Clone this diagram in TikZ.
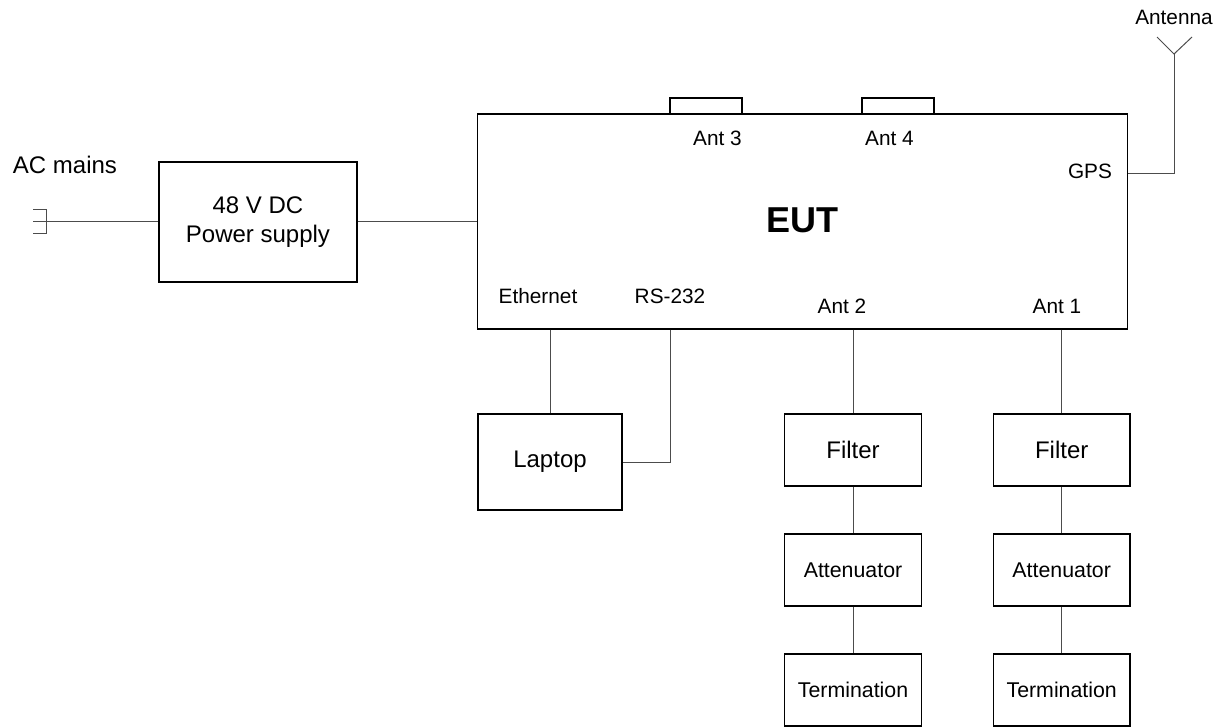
\documentclass[tikz,border=0pt]{standalone}
\usepackage{fontspec}
\setmainfont{Liberation Sans}
\usetikzlibrary{calc}
\tikzset{
  block/.style={rectangle, draw=black, line width=1pt, inner sep=0pt, align=center, font=\fontsize{18}{21.5}\selectfont},
  chainbox/.style={block, minimum width=102.5pt, minimum height=54pt},
  smalltext/.style={font=\fontsize{16}{19}\selectfont},
  lbl/.style={inner sep=0pt, font=\fontsize{15.6}{18}\selectfont},
  wire/.style={line width=0.75pt, black!70},
}
\begin{document}
\begin{tikzpicture}[x=0.75pt, y=-0.75pt]
\useasboundingbox (0,0) rectangle (1227,727);
% main unit and its two top ports
\node[block, minimum width=487.5pt, minimum height=161pt, font=\fontsize{27}{32}\selectfont\bfseries] (eut) at (802.5,221.5) {\raisebox{1.9pt}{EUT}};
\node[block, minimum width=54pt, minimum height=12pt] (ant3) at (706,106) {};
\node[block, minimum width=54pt, minimum height=12pt] (ant4) at (898,106) {};
% power side
\node[block, minimum width=148.5pt, minimum height=90pt] (psu) at (258,222) {48 V DC\\Power supply};
\node[block, minimum width=108pt, minimum height=72pt] (laptop) at (550,462) {Laptop};
% filter chains
\node[chainbox] (filterb) at (853,450) {Filter};
\node[chainbox, smalltext] (attb) at (853,570) {Attenuator};
\node[chainbox, smalltext] (termb) at (853,690) {Termination};
\node[chainbox] (filtera) at (1061.7,450) {Filter};
\node[chainbox, smalltext] (atta) at (1061.7,570) {Attenuator};
\node[chainbox, smalltext] (terma) at (1061.7,690) {Termination};
% labels
\node[lbl, font=\fontsize{18}{21}\selectfont] (acmains) at (65,165) {AC mains};
\node[lbl] (antenna) at (1174,17) {Antenna};
\node[lbl] (lant3) at (717.5,138) {Ant 3};
\node[lbl] (lant4) at (889.5,138) {Ant 4};
\node[lbl] (lgps) at (1090,171) {GPS};
\node[lbl] (leth) at (538,296) {Ethernet};
\node[lbl] (lrs) at (670,296) {RS-232};
\node[lbl] (lant2) at (842,306) {Ant 2};
\node[lbl] (lant1) at (1057,306) {Ant 1};
% plug and aerial
\coordinate (plugend) at (33,222);
\coordinate (plugtop) at (33,210);
\coordinate (plugbot) at (33,234);
\coordinate (plugtopr) at (46,210);
\coordinate (plugbotr) at (46,234);
\coordinate (antfoot) at (1174,54);
\coordinate (antl) at (1157,37);
\coordinate (antr) at (1192,37);
\coordinate (gpscorner) at (1174,174);
% connectors
\draw[wire] (plugend) -- (psu.west);
\draw[wire] (plugtop) -- (plugtopr) -- (plugbotr) -- (plugbot);
\draw[wire] (psu.east) -- (eut.west |- psu.east);
\draw[wire] (eut.east |- gpscorner) -- (gpscorner) -- (antfoot);
\draw[wire] (antl) -- (antfoot) -- (antr);
\draw[wire] (eut.south -| laptop.north) -- (laptop.north);
\draw[wire] (eut.south -| lrs) -- (lrs |- laptop.east) -- (laptop.east);
\draw[wire] (eut.south -| filterb.north) -- (filterb.north);
\draw[wire] (filterb) -- (attb);
\draw[wire] (attb) -- (termb);
\draw[wire] (eut.south -| filtera.north) -- (filtera.north);
\draw[wire] (filtera) -- (atta);
\draw[wire] (atta) -- (terma);
\end{tikzpicture}
\end{document}
